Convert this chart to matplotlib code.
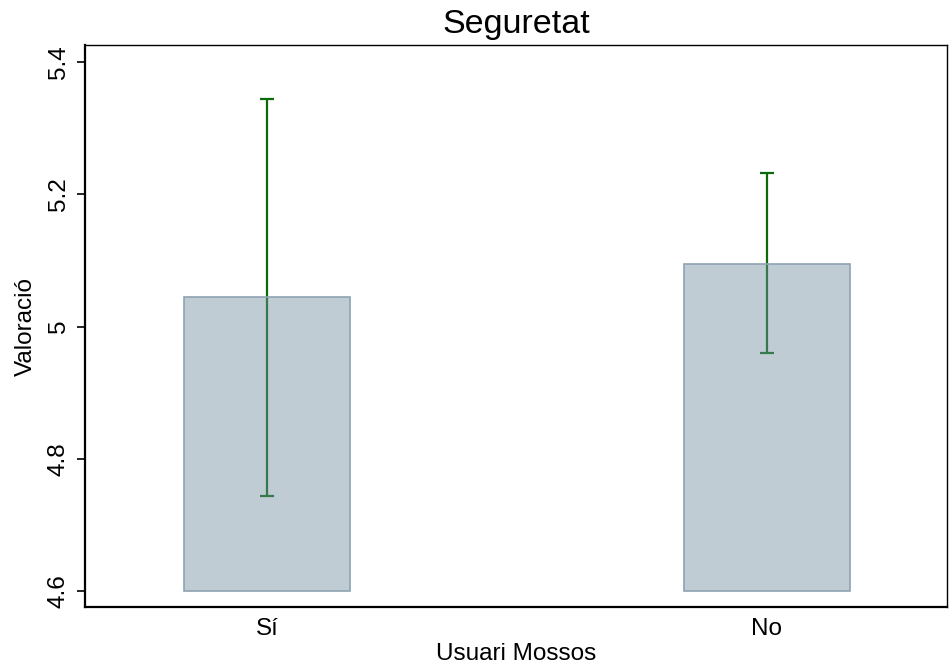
import matplotlib
matplotlib.use('Agg')
import matplotlib.pyplot as plt
import numpy as np

plt.rcParams['font.family'] = ['Liberation Sans', 'DejaVu Sans']

# data
groups = ['Sí', 'No']
means = [5.044, 5.095]
ci_low = [4.744, 4.960]
ci_high = [5.344, 5.232]
base = 4.6

x = np.arange(len(groups))
means = np.array(means)
err = [means - np.array(ci_low), np.array(ci_high) - means]

fig = plt.figure(figsize=(9.53, 6.64), dpi=100)
ax = fig.add_axes([0.0892, 0.0858, 0.9045, 0.8464])

ax.errorbar(x, means, yerr=err, fmt='none', ecolor='#0b6b0b',
            elinewidth=1.6, capsize=5, capthick=1.6, zorder=1)
# translucent bars so the green line shows through
ax.bar(x, means - base, bottom=base, width=0.332,
       facecolor=(0.43, 0.545, 0.615, 0.44),
       edgecolor='#8fa3b3', linewidth=1.2, zorder=2)

ax.set_xlim(-0.364, 1.36)
ax.set_ylim(4.5758, 5.4257)
ax.set_xticks(x)
ax.set_xticklabels(groups)
ax.set_yticks([4.6, 4.8, 5.0, 5.2, 5.4])
ax.set_yticklabels(['4.6', '4.8', '5', '5.2', '5.4'], rotation=90, va='center')
ax.tick_params(axis='x', length=0, labelsize=17.5, pad=8)
ax.tick_params(axis='y', length=6, width=1.2, labelsize=17.5, pad=5)

for s in ['left', 'bottom']:
    ax.spines[s].set_linewidth(1.6)
for s in ['top', 'right']:
    ax.spines[s].set_linewidth(1.0)

ax.set_xlabel('Usuari Mossos', fontsize=17.5, labelpad=2)
ax.set_ylabel('Valoració', fontsize=17.5, labelpad=8)
ax.set_title('Seguretat', fontsize=24.5, pad=9)

fig.savefig('out.png', dpi=100)
